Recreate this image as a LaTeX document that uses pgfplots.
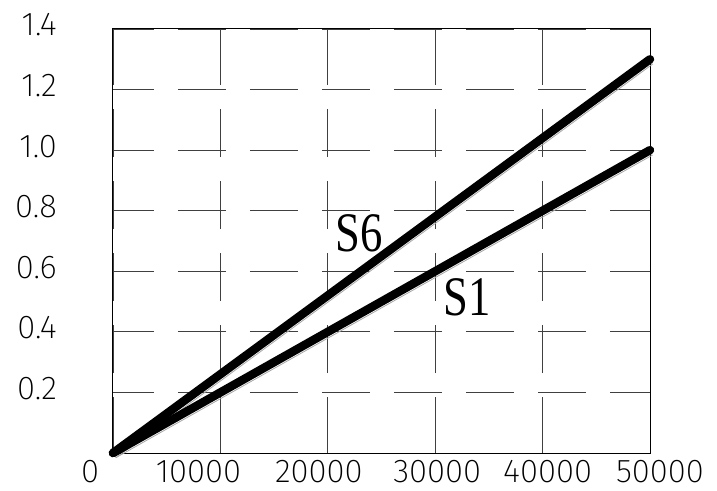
\documentclass[border=0pt]{standalone}
\usepackage{fontspec}
\usepackage{pgfplots}
\pgfplotsset{compat=1.18}
\newfontfamily\cadfont{Fira Sans ExtraLight}
\newfontfamily\labfont{Liberation Serif}

% tick label moved sideways by #1/2 bp
\newcommand{\xl}[2]{\makebox[0pt]{\kern#1bp #2}}

\begin{document}
\begin{tikzpicture}
\begin{axis}[
    name=ax,
    scale only axis,
    width=537bp, height=424bp,
    xmin=0, xmax=50000, ymin=0, ymax=1.4,
    xtick={0,10000,20000,30000,40000,50000},
    ytick={0.2,0.4,0.6,0.8,1.0,1.2,1.4},
    xticklabels={\xl{-46}{0},\xl{-44}{10000},\xl{-18}{20000},\xl{4}{30000},\xl{10}{40000},\xl{20}{50000}},
    yticklabels={0.2,0.4,0.6,0.8,1.0,1.2,1.4},
    scaled x ticks=false,
    major tick length=0pt,
    tick label style={font=\cadfont\fontsize{33}{33}\selectfont, inner sep=0pt},
    xticklabel style={anchor=north, yshift=-7bp},
    yticklabel style={anchor=east, xshift=-56bp, yshift=4bp},
    axis line style={line width=1bp},
    grid=major,
    x grid style={black!75, line width=0.75bp,
        dash pattern=on 56bp off 24bp on 48bp off 24bp on 48bp off 24bp on 48bp off 24bp on 48bp off 24bp on 56bp off 300bp},
    y grid style={black!75, line width=0.75bp,
        dash pattern=on 41bp off 24bp on 48bp off 24bp on 48bp off 24bp on 48bp off 24bp on 48bp off 24bp on 48bp off 24bp on 48bp off 24bp on 41bp off 300bp},
    clip=false,
]
% thin grey shadow lines
\addplot[gray!70, line width=0.8bp, transform canvas={shift={(2.9bp,-4.6bp)}}] coordinates {(0,0) (50000,1.3)};
\addplot[gray!70, line width=0.8bp, transform canvas={shift={(2.5bp,-4.9bp)}}] coordinates {(0,0) (50000,1.0)};
% S6 and S1
\addplot[black, line width=8.5bp, line cap=round] coordinates {(0,0) (50000,1.3)};
\addplot[black, line width=8.5bp, line cap=round] coordinates {(0,0) (50000,1.0)};

\node[font=\labfont\fontsize{56}{56}\selectfont, xscale=0.8, transform shape] at (axis cs:22900,0.726) {S6};
\node[font=\labfont\fontsize{56}{56}\selectfont, xscale=0.8, transform shape] at (axis cs:32960,0.515) {S1};
\end{axis}
\pgfresetboundingbox
\path ([shift={(-113bp,-38bp)}]ax.south west) rectangle ([shift={(67bp,29bp)}]ax.north east);
\end{tikzpicture}
\end{document}
